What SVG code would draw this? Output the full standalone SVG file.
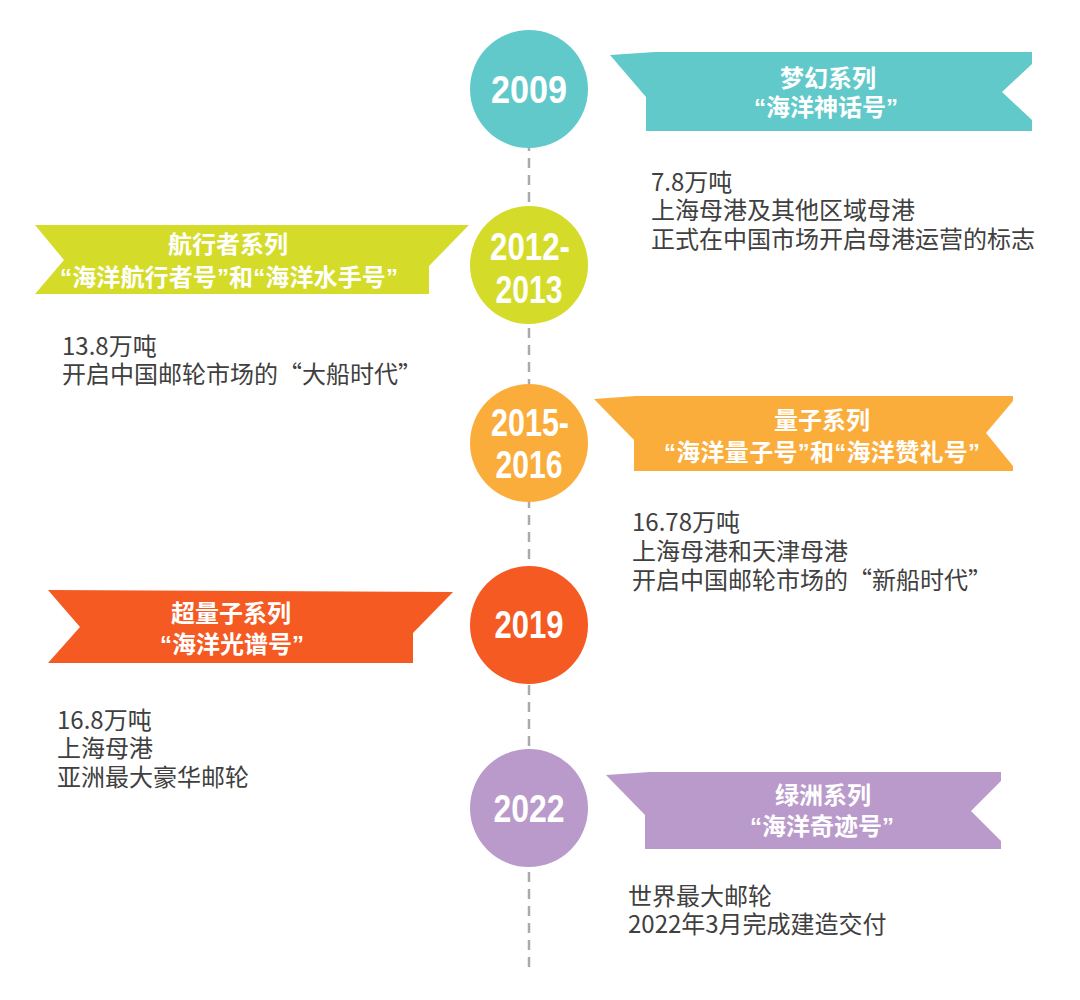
<svg xmlns="http://www.w3.org/2000/svg" width="1080" height="1000" viewBox="0 0 1080 1000">
<style>
.yr{font-family:"Liberation Sans","DejaVu Sans",sans-serif;font-weight:700;font-size:39px;fill:#fff;text-anchor:middle}
.bn{font-family:"Liberation Sans","Noto Sans CJK SC",sans-serif;font-weight:700;font-size:24px;fill:#fff;text-anchor:middle}
.bd{font-family:"Noto Sans CJK SC","Noto Sans",sans-serif;font-size:24px;fill:#404040}
.ln{stroke:#aaaaaa;stroke-width:2.5;stroke-dasharray:10 7;fill:none}
</style>
<rect width="1080" height="1000" fill="#ffffff"/>
<g id="connectors">
<line class="ln" x1="529" y1="90" x2="529" y2="973"/>
</g>
<g id="n2009">
<circle cx="529" cy="89" r="59" fill="#62C9CA"/>
<text class="yr" x="529" y="103" textLength="76" lengthAdjust="spacingAndGlyphs">2009</text>
<polygon points="610,55 655,52 1032,52 1032,64 1002,92 1032,120 1032,131 646,131 646,97" fill="#62C9CA"/>
<text class="bn" x="828" y="87">梦幻系列</text>
<text class="bn" x="826" y="116">“海洋神话号”</text>
<text class="bd" x="651" y="191">7.8万吨</text>
<text class="bd" x="651" y="219">上海母港及其他区域母港</text>
<text class="bd" x="651" y="248">正式在中国市场开启母港运营的标志</text>
</g>
<g id="n2012">
<circle cx="529" cy="265" r="59" fill="#D4DC29"/>
<text class="yr" x="530" y="260" textLength="80" lengthAdjust="spacingAndGlyphs">2012-</text>
<text class="yr" x="529" y="303" textLength="67" lengthAdjust="spacingAndGlyphs">2013</text>
<polygon points="35,225 469,225 429,266 429,294 35,294 64,260" fill="#D4DC29"/>
<text class="bn" x="228" y="253">航行者系列</text>
<text class="bn" x="229" y="286" textLength="338" lengthAdjust="spacing">“海洋航行者号”和“海洋水手号”</text>
<text class="bd" x="62" y="355">13.8万吨</text>
<text class="bd" x="62" y="383">开启中国邮轮市场的“大船时代”</text>
</g>
<g id="n2015">
<circle cx="529" cy="443" r="59" fill="#FBAD3B"/>
<text class="yr" x="530" y="436" textLength="78" lengthAdjust="spacingAndGlyphs">2015-</text>
<text class="yr" x="529" y="478" textLength="67" lengthAdjust="spacingAndGlyphs">2016</text>
<polygon points="594,399 636,396 1013,396 1013,401 986,433 1013,466 1013,471 634,471 634,440" fill="#FBAD3B"/>
<text class="bn" x="822" y="429">量子系列</text>
<text class="bn" x="822" y="461" textLength="316" lengthAdjust="spacing">“海洋量子号”和“海洋赞礼号”</text>
<text class="bd" x="632" y="531">16.78万吨</text>
<text class="bd" x="632" y="560">上海母港和天津母港</text>
<text class="bd" x="632" y="589">开启中国邮轮市场的“新船时代”</text>
</g>
<g id="n2019">
<circle cx="529" cy="625" r="59" fill="#F55A22"/>
<text class="yr" x="529" y="638" textLength="69" lengthAdjust="spacingAndGlyphs">2019</text>
<polygon points="48,590 453,592 413,633 413,663 48,663 80,627" fill="#F55A22"/>
<text class="bn" x="231" y="622">超量子系列</text>
<text class="bn" x="232" y="653">“海洋光谱号”</text>
<text class="bd" x="57" y="729">16.8万吨</text>
<text class="bd" x="57" y="757">上海母港</text>
<text class="bd" x="57" y="786">亚洲最大豪华邮轮</text>
</g>
<g id="n2022">
<circle cx="529" cy="808" r="59" fill="#BA9ACB"/>
<text class="yr" x="529" y="822" textLength="71" lengthAdjust="spacingAndGlyphs">2022</text>
<polygon points="606,775 650,772 1001,772 1001,781 971,811 1001,841 1001,849 645,849 645,815" fill="#BA9ACB"/>
<text class="bn" x="823" y="804">绿洲系列</text>
<text class="bn" x="822" y="835">“海洋奇迹号”</text>
<text class="bd" x="628" y="905">世界最大邮轮</text>
<text class="bd" x="628" y="933">2022年3月完成建造交付</text>
</g>
</svg>
